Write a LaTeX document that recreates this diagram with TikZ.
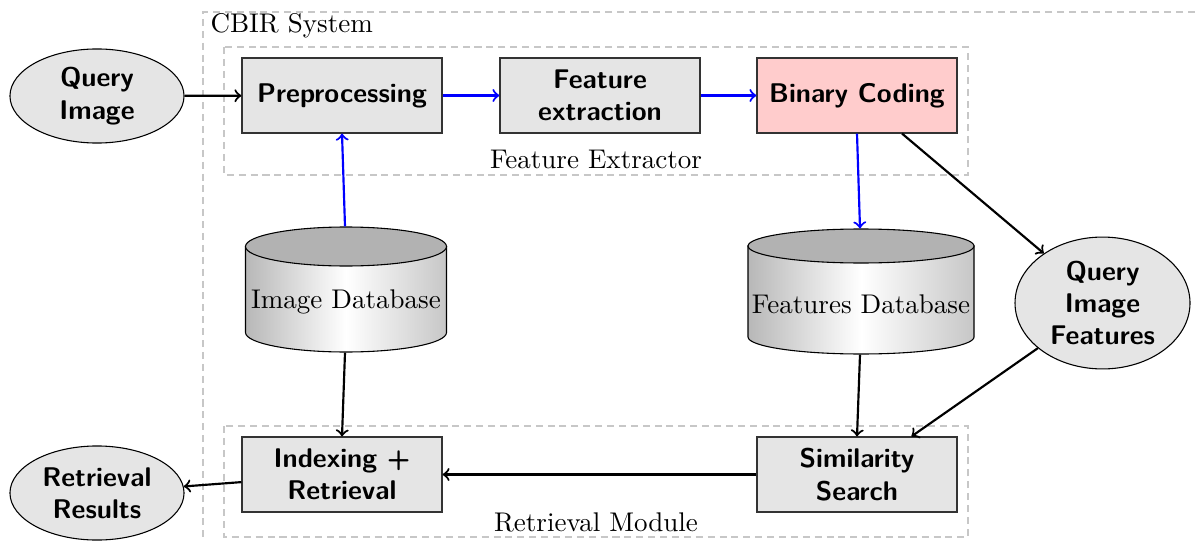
\documentclass[tikz,border=0pt]{standalone}
\usetikzlibrary{shapes.geometric,calc}
\begin{document}
\begin{tikzpicture}[x=0.37pt,y=-0.37pt,
  proc/.style={rectangle,draw=black!80,fill=black!10,minimum width=74pt,minimum height=27.75pt,
    inner sep=0pt,align=center,font=\sffamily\bfseries},
  term/.style={ellipse,draw=black,fill=black!10,inner sep=0pt,align=center,font=\sffamily\bfseries},
  dbhold/.style={rectangle,inner sep=0pt,align=center},
  group/.style={draw=black!22,dash pattern=on 2.6pt off 1.8pt},
  flow/.style={->,thick,black},
  bflow/.style={->,thick,blue}]
\useasboundingbox (0,0) rectangle (1195,540);

% containers
\draw[group] (1195,12) -- (203,12) -- (203,540);
\node[anchor=base west,inner sep=0pt] (lsys) at (210,33) {CBIR System};
\draw[group] (224,47) rectangle (968,175);
\node[anchor=base,inner sep=0pt] (lfe) at (596,168) {Feature Extractor};
\draw[group] (224,426) rectangle (968,537);
\node[anchor=base,inner sep=0pt] (lrm) at (596,531) {Retrieval Module};

% cylinders (drawn by hand, named by an invisible holder)
\newcommand\dbcyl[6]{% name, cx, top, bottom, rx, ry
  \pgfmathsetmacro\cx{#2}\pgfmathsetmacro\ty{#3}\pgfmathsetmacro\by{#4}
  \pgfmathsetmacro\rx{#5}\pgfmathsetmacro\ry{#6}
  \pgfmathsetmacro\tc{\ty+\ry}\pgfmathsetmacro\bc{\by-\ry}
  \shade[left color=black!28,right color=black!22,middle color=white,draw=black]
    (\cx-\rx,\tc) -- (\cx-\rx,\bc) arc[start angle=180,end angle=360,x radius=\rx,y radius=-\ry]
    -- (\cx+\rx,\tc) -- cycle;
  \draw[fill=black!30] (\cx,\tc) ellipse[x radius=\rx,y radius=\ry];
}
\dbcyl{idb}{346}{227}{352}{100.5}{19.5}
\node[dbhold,minimum width=74.4pt,minimum height=46.25pt] (idb) at (345,289.5) {};
\node (idbt) at (346,302) {Image Database};
\dbcyl{fdb}{861}{229}{354}{113}{17}
\node[dbhold,minimum width=83.6pt,minimum height=46.25pt] (fdb) at (860,291.5) {};
\node (fdbt) at (861,304) {Features Database};

% process nodes
\node[term,minimum width=64.4pt,minimum height=34.8pt] (qi) at (97,96) {Query\\Image};
\node[proc] (pre) at (342,95.5) {Preprocessing};
\node[proc] (fex) at (600,95.5) {Feature\\extraction};
\node[proc,fill=red!20] (bin) at (857,95.5) {Binary Coding};
\node[term,minimum width=64.75pt,minimum height=48.8pt] (qif) at (1102.5,303) {Query\\Image\\Features};
\node[proc] (idx) at (342,474.5) {Indexing +\\Retrieval};
\node[proc] (sim) at (857,474.5) {Similarity\\Search};
\node[term,minimum width=64.4pt,minimum height=34.8pt] (res) at (97,493) {Retrieval\\Results};

% connectors
\draw[flow] (qi) -- (pre);
\draw[bflow] (pre) -- (fex);
\draw[bflow] (fex) -- (bin);
\draw[bflow] (idb.north) -- (pre.south);
\draw[bflow] (bin.south) -- (fdb.north);
\draw[flow] (bin) -- (qif);
\draw[flow] (qif) -- (sim);
\draw[flow] (idb.south) -- (idx.north);
\draw[flow] (fdb.south) -- (sim.north);
\draw[flow] (sim) -- (idx);
\draw[flow] (idx) -- (res);
\end{tikzpicture}
\end{document}
